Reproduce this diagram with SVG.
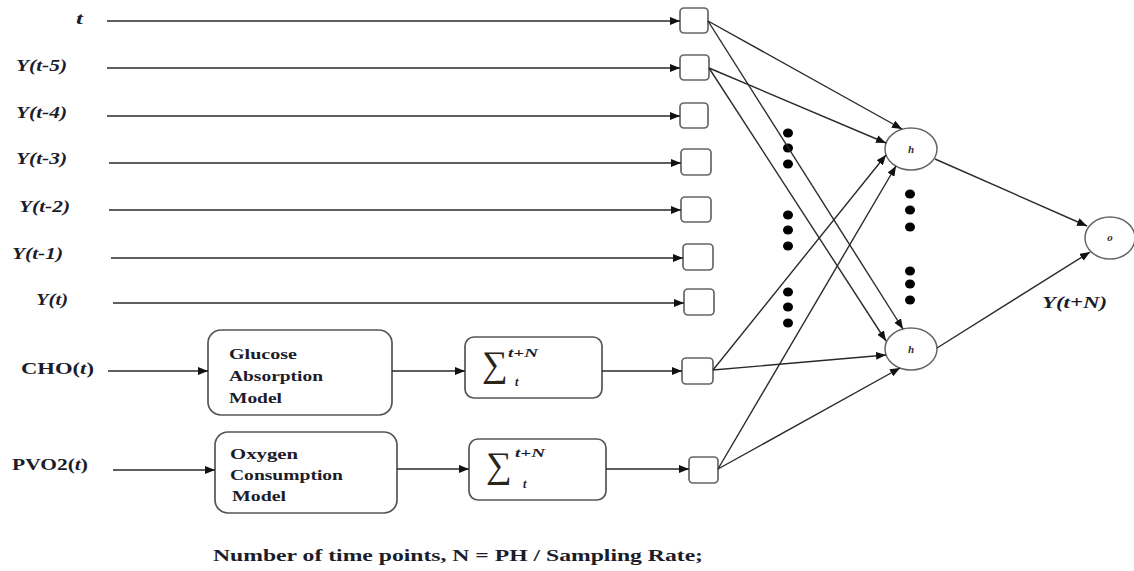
<svg xmlns="http://www.w3.org/2000/svg" width="1134" height="571" viewBox="0 0 1134 571">
<style>
.lbl{font-family:"Liberation Serif","Times New Roman",serif;font-weight:bold;font-style:italic;font-size:17px;fill:#1c1c2a}
.up{font-family:"Liberation Serif","Times New Roman",serif;font-weight:bold;font-size:17px;fill:#1c1c2a}
.box{font-family:"Liberation Serif","Times New Roman",serif;font-weight:bold;font-size:15px;fill:#1c1c2a}
.in{fill:#fff;stroke:#666;stroke-width:1.7}
.blk{fill:#fff;stroke:#555;stroke-width:1.7}
.node{fill:#fff;stroke:#666;stroke-width:1.5}
.dot{fill:#000}
.c line{stroke:#2a2a2a;stroke-width:1.4;marker-end:url(#ah)}
.sig{font-family:"Liberation Serif","DejaVu Serif",serif;font-size:36px;fill:#2a2418}
.sm{font-family:"Liberation Serif","Times New Roman",serif;font-style:italic;font-weight:bold;font-size:12px;fill:#1c1c2a}
.nl{font-family:"Liberation Serif","Times New Roman",serif;font-style:italic;font-weight:bold;font-size:11px;fill:#3a3020}
</style>
<defs>
<marker id="ah" markerUnits="userSpaceOnUse" markerWidth="11" markerHeight="8" refX="10" refY="4" orient="auto">
<path d="M0,0 L10,4 L0,8 z" fill="#111"/>
</marker>
</defs>
<rect width="1134" height="571" fill="#fff"/>

<g id="labels">
<text class="lbl" x="76" y="24" textLength="7" lengthAdjust="spacingAndGlyphs">t</text>
<text class="lbl" x="16" y="71" textLength="51" lengthAdjust="spacingAndGlyphs">Y(t-5)</text>
<text class="lbl" x="16" y="118" textLength="51" lengthAdjust="spacingAndGlyphs">Y(t-4)</text>
<text class="lbl" x="16" y="164" textLength="51" lengthAdjust="spacingAndGlyphs">Y(t-3)</text>
<text class="lbl" x="19" y="212" textLength="51" lengthAdjust="spacingAndGlyphs">Y(t-2)</text>
<text class="lbl" x="12" y="259" textLength="51" lengthAdjust="spacingAndGlyphs">Y(t-1)</text>
<text class="lbl" x="36" y="305" textLength="32" lengthAdjust="spacingAndGlyphs">Y(t)</text>
<text class="up" x="21" y="374" font-size="18" textLength="73" lengthAdjust="spacingAndGlyphs">CHO(<tspan font-style="italic">t</tspan>)</text>
<text class="up" x="12" y="470" font-size="18" textLength="76" lengthAdjust="spacingAndGlyphs">PVO2(<tspan font-style="italic">t</tspan>)</text>
<text class="lbl" x="1042" y="308" textLength="65" lengthAdjust="spacingAndGlyphs">Y(t+N)</text>
<text class="up" x="213" y="561" font-size="21" textLength="490" lengthAdjust="spacingAndGlyphs">Number of time points, N = PH / Sampling Rate;</text>
</g>

<g id="glucose-model">
<rect class="blk" x="208" y="330" width="184" height="85" rx="13"/>
<text class="box" x="229" y="359" textLength="68" lengthAdjust="spacingAndGlyphs">Glucose</text>
<text class="box" x="229" y="381" textLength="94" lengthAdjust="spacingAndGlyphs">Absorption</text>
<text class="box" x="229" y="403" textLength="53" lengthAdjust="spacingAndGlyphs">Model</text>
</g>
<g id="oxygen-model">
<rect class="blk" x="215" y="432" width="182" height="81" rx="13"/>
<text class="box" x="230" y="459" textLength="68" lengthAdjust="spacingAndGlyphs">Oxygen</text>
<text class="box" x="230" y="480" textLength="113" lengthAdjust="spacingAndGlyphs">Consumption</text>
<text class="box" x="232" y="501" textLength="54" lengthAdjust="spacingAndGlyphs">Model</text>
</g>
<g id="sum-1">
<rect class="blk" x="465" y="337" width="137" height="61" rx="9"/>
<text class="sig" x="482" y="376">∑</text>
<text class="sm" x="508" y="357" textLength="30" lengthAdjust="spacingAndGlyphs">t+N</text>
<text class="sm" x="515" y="386">t</text>
</g>
<g id="sum-2">
<rect class="blk" x="469" y="439" width="137" height="61" rx="9"/>
<text class="sig" x="486" y="477">∑</text>
<text class="sm" x="515" y="457" textLength="30" lengthAdjust="spacingAndGlyphs">t+N</text>
<text class="sm" x="523" y="488">t</text>
</g>

<g id="input-nodes">
<rect id="in1" class="in" x="680" y="8" width="28" height="25" rx="4"/>
<rect id="in2" class="in" x="680" y="55" width="29" height="25" rx="4"/>
<rect id="in3" class="in" x="680" y="103" width="28" height="25" rx="4"/>
<rect id="in4" class="in" x="681" y="149" width="30" height="26" rx="4"/>
<rect id="in5" class="in" x="681" y="197" width="30" height="25" rx="4"/>
<rect id="in6" class="in" x="683" y="244" width="30" height="26" rx="4"/>
<rect id="in7" class="in" x="684" y="289" width="30" height="26" rx="4"/>
<rect id="in8" class="in" x="682" y="358" width="31" height="26" rx="4"/>
<rect id="in9" class="in" x="689" y="457" width="29" height="26" rx="4"/>
</g>

<g id="hidden-1">
<ellipse class="node" cx="911" cy="149" rx="26" ry="21"/>
<text class="nl" x="911" y="153" text-anchor="middle">h</text>
</g>
<g id="hidden-2">
<ellipse class="node" cx="911" cy="349" rx="26" ry="21"/>
<text class="nl" x="911" y="353" text-anchor="middle">h</text>
</g>
<g id="output">
<ellipse class="node" cx="1110" cy="238" rx="25" ry="21"/>
<text class="nl" x="1110" y="241" text-anchor="middle" font-size="10">o</text>
</g>

<g id="ellipsis-dots">
<ellipse class="dot" cx="788" cy="133" rx="5" ry="4.5"/>
<ellipse class="dot" cx="788" cy="148" rx="5" ry="4.5"/>
<ellipse class="dot" cx="788" cy="164" rx="5" ry="4.5"/>
<ellipse class="dot" cx="788" cy="215" rx="5" ry="4.5"/>
<ellipse class="dot" cx="788" cy="230" rx="5" ry="4.5"/>
<ellipse class="dot" cx="788" cy="246" rx="5" ry="4.5"/>
<ellipse class="dot" cx="788" cy="292" rx="5" ry="4.5"/>
<ellipse class="dot" cx="788" cy="307" rx="5" ry="4.5"/>
<ellipse class="dot" cx="788" cy="323" rx="5" ry="4.5"/>
<ellipse class="dot" cx="910" cy="194" rx="5" ry="4.5"/>
<ellipse class="dot" cx="910" cy="210" rx="5" ry="4.5"/>
<ellipse class="dot" cx="910" cy="227" rx="5" ry="4.5"/>
<ellipse class="dot" cx="910" cy="271" rx="5" ry="4.5"/>
<ellipse class="dot" cx="910" cy="284" rx="5" ry="4.5"/>
<ellipse class="dot" cx="910" cy="300" rx="5" ry="4.5"/>
</g>

<g id="connectors" class="c">
<line x1="107" y1="21" x2="680" y2="21"/>
<line x1="107" y1="68" x2="680" y2="68"/>
<line x1="107" y1="116" x2="680" y2="116"/>
<line x1="109" y1="163" x2="681" y2="163"/>
<line x1="109" y1="210" x2="681" y2="210"/>
<line x1="111" y1="258" x2="683" y2="258"/>
<line x1="113" y1="303" x2="684" y2="303"/>
<line x1="108" y1="371" x2="208" y2="371"/>
<line x1="392" y1="371" x2="465" y2="371"/>
<line x1="602" y1="371" x2="682" y2="371"/>
<line x1="113" y1="470" x2="215" y2="470"/>
<line x1="397" y1="469" x2="469" y2="469"/>
<line x1="606" y1="469" x2="689" y2="469"/>
<line x1="708" y1="21" x2="902" y2="129"/>
<line x1="708" y1="21" x2="903" y2="329"/>
<line x1="709" y1="68" x2="886" y2="143"/>
<line x1="709" y1="68" x2="886" y2="341"/>
<line x1="713" y1="370" x2="886" y2="155"/>
<line x1="713" y1="370" x2="886" y2="355"/>
<line x1="718" y1="469" x2="896" y2="166"/>
<line x1="718" y1="469" x2="900" y2="368"/>
<line x1="935" y1="159" x2="1087" y2="226"/>
<line x1="937" y1="348" x2="1090" y2="252"/>
</g>
</svg>
